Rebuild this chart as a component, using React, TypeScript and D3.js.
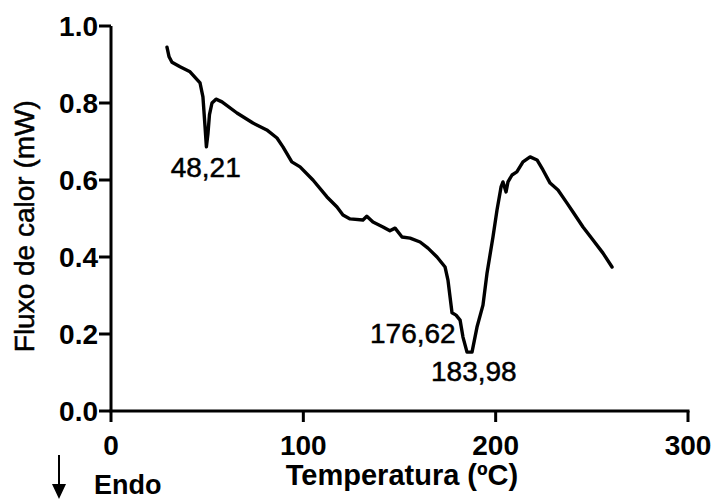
import React from "react";
import * as d3 from "d3";

const temperature = [
  29.1, 30.2, 31.7, 35.9, 41.1, 46.3, 47.8, 48.9, 49.6, 50.4, 51.2, 52.5, 54.6, 57.7, 65.5, 73.8, 81.0,
  86.3, 89.4, 94.0, 98.3, 105.0, 112.3, 117.5, 120.6, 124.3, 131.0, 133.0, 136.2, 141.4, 145.0,
  147.7, 151.3, 155.5, 160.7, 164.8, 169.5, 173.7, 175.2, 177.3, 179.4, 181.5, 183.0, 185.1,
  187.7, 190.3, 193.4, 195.5, 198.6, 200.7, 202.8, 203.8, 205.4, 206.4, 208.5, 211.0, 214.2,
  217.9, 221.5, 224.6, 228.3, 232.4, 237.1, 240.2, 245.4, 250.6, 255.8, 260.5,
];
const heatFlow = [
  0.945, 0.92, 0.906, 0.894, 0.881, 0.852, 0.816, 0.738, 0.686, 0.72, 0.77, 0.8, 0.81, 0.803, 0.774,
  0.748, 0.73, 0.709, 0.686, 0.647, 0.634, 0.6, 0.556, 0.53, 0.509, 0.499, 0.496, 0.506, 0.491,
  0.478, 0.468, 0.475, 0.452, 0.449, 0.439, 0.423, 0.4, 0.374, 0.34, 0.255, 0.249, 0.236, 0.192,
  0.153, 0.153, 0.218, 0.275, 0.358, 0.452, 0.522, 0.582, 0.595, 0.569, 0.595, 0.613, 0.621,
  0.647, 0.66, 0.652, 0.626, 0.592, 0.574, 0.54, 0.517, 0.478, 0.444, 0.41, 0.374,
];
const xTicks = [0, 100, 200, 300];
const yTicks = [0.0, 0.2, 0.4, 0.6, 0.8, 1.0];
const peakLabels = ["48,21", "176,62", "183,98"];
const peakTemps = [48.21, 176.62, 183.98];
const peakFlows = [0.686, 0.249, 0.153];

const W = 716;
const H = 499;
const FONT = "'Liberation Sans', Arial, Helvetica, sans-serif";

export default function App() {
  const x = d3.scaleLinear().domain([0, 300]).range([111, 688]);
  const y = d3.scaleLinear().domain([0, 1]).range([411, 26]);
  const pts = temperature.map((t, i) => [t, heatFlow[i]] as [number, number]);
  const line = d3
    .line<[number, number]>()
    .x((d) => x(d[0]))
    .y((d) => y(d[1]));

  const soft = { stroke: "#000", strokeWidth: 0.5 };

  return (
    <svg
      width={W}
      height={H}
      style={{ position: "absolute", left: 0, top: 0, background: "#fff" }}
      fontFamily={FONT}
    >
      <rect width={W} height={H} fill="#fff" />
      {/* curve */}
      <path d={line(pts) || ""} fill="none" stroke="#000" strokeWidth={3.4} strokeLinejoin="round" strokeLinecap="round" />

      {/* y axis */}
      <line x1={x(0)} x2={x(0)} y1={y(1)} y2={y(0)} stroke="#000" strokeWidth={3} />
      {yTicks.map((v) => (
        <g key={"y" + v}>
          <line x1={x(0) - 12} x2={x(0)} y1={y(v)} y2={y(v)} stroke="#000" strokeWidth={3} />
          <text
            x={x(0) - 13}
            y={y(v)}
            dy="0.36em"
            textAnchor="end"
            fontSize={28}
            fontWeight="bold"
          >
            {v.toFixed(1)}
          </text>
        </g>
      ))}

      {/* x axis */}
      <line x1={x(0) - 1.5} x2={x(300) + 1.5} y1={y(0)} y2={y(0)} stroke="#000" strokeWidth={3} />
      {xTicks.map((t) => (
        <g key={"x" + t}>
          <line x1={x(t)} x2={x(t)} y1={y(0)} y2={y(0) + 11} stroke="#000" strokeWidth={3} />
          <text x={x(t)} y={455} textAnchor="middle" fontSize={28} fontWeight="bold">
            {t}
          </text>
        </g>
      ))}

      {/* axis titles */}
      <text x={402} y={485} textAnchor="middle" fontSize={29} fontWeight="bold">
        Temperatura (ºC)
      </text>
      <text
        transform={`translate(34, ${y(0.48)}) rotate(-90)`}
        textAnchor="middle"
        fontSize={28}
        {...soft}
      >
        Fluxo de calor (mW)
      </text>

      {/* peak labels */}
      <text x={x(peakTemps[0]) + 2} y={y(peakFlows[0]) + 30} textAnchor="middle" fontSize={28} {...soft}>
        {peakLabels[0]}
      </text>
      <text x={x(peakTemps[1]) + 5} y={y(peakFlows[1]) + 28} textAnchor="end" fontSize={28} {...soft}>
        {peakLabels[1]}
      </text>
      <text x={x(peakTemps[2]) + 9} y={y(peakFlows[2]) + 29} textAnchor="middle" fontSize={28} {...soft}>
        {peakLabels[2]}
      </text>

      {/* Endo arrow */}
      <line x1={59} x2={59} y1={455} y2={488} stroke="#000" strokeWidth={2} />
      <path d="M52,484 L66,484 L59,499 Z" fill="#000" />
      <text x={94} y={494} fontSize={27} fontWeight="bold">
        Endo
      </text>
    </svg>
  );
}
